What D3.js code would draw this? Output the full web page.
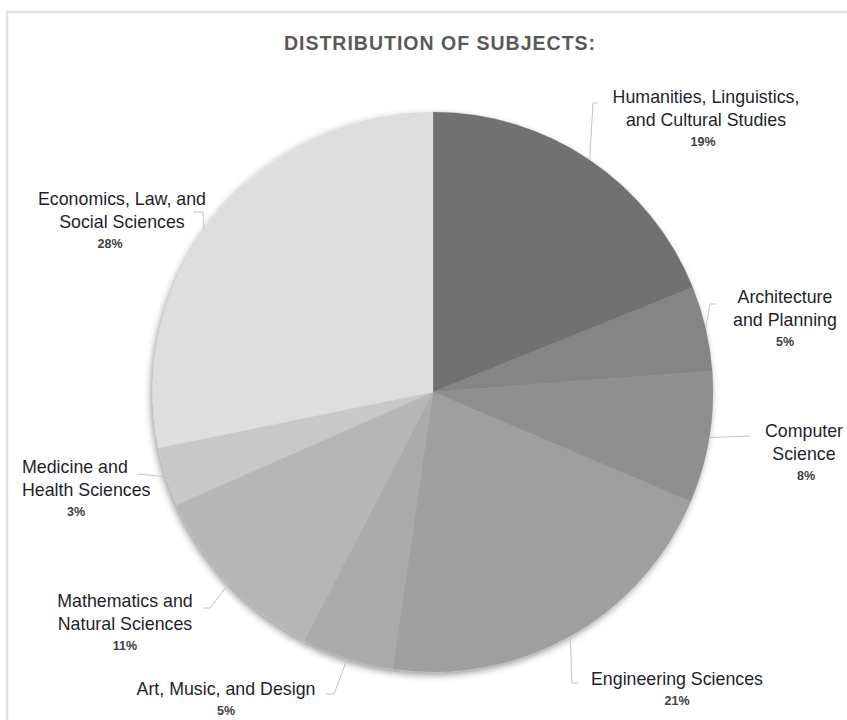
<!DOCTYPE html>
<html>
<head>
<meta charset="utf-8">
<script src="https://cdn.jsdelivr.net/npm/d3@7"></script>
<style>
  body { margin: 0; background: #fff; }
  text { font-family: "Liberation Sans", Arial, sans-serif; }
</style>
</head>
<body>
<svg id="chart" width="847" height="720"></svg>
<script>
// data (share of subjects, %)
const subjects = [
  ["Humanities, Linguistics,", "and Cultural Studies"],
  ["Architecture", "and Planning"],
  ["Computer", "Science"],
  ["Engineering Sciences"],
  ["Art, Music, and Design"],
  ["Mathematics and", "Natural Sciences"],
  ["Medicine and", "Health Sciences"],
  ["Economics, Law, and", "Social Sciences"]
];
const shares = [18.9, 4.9, 7.6, 20.9, 5.3, 10.8, 3.4, 28.2];
const greys = ["#717171", "#858585", "#8f8f8f", "#9f9f9f", "#ababab", "#b6b6b6", "#c8c8c8", "#dedede"];

// label layout: text anchor x, first baseline y, percent x, anchor
const labelX = [706, 785, 804, 677, 226, 125, 22, 122];
const labelY = [103, 303, 437, 685, 695, 607, 473, 205];
const pctX = [703, 785, 806, 677, 226, 125, 76, 110];
const anchors = ["middle", "middle", "middle", "middle", "middle", "middle", "start", "middle"];
// where along each slice's arc the leader leaves (0 = start, 1 = end)
const leaderAt = [0.5, 0.5, 0.5, 0.5, 0.5, 0.5, 0.5, 0.46];
// leader bend points after the slice edge
const leaderPts = [
  [[593, 103], [598, 103]],
  [[710, 304], [716, 304]],
  [[750, 436]],
  [[572, 683], [578, 683]],
  [[334, 694], [326, 694]],
  [[210, 608], [203, 608]],
  [[138, 474]],
  [[203, 212], [193, 212]]
];

const W = 847, H = 720;
const cx = 433, cy = 392, R = 280;

const svg = d3.select("#chart");

// soft shadow under the pie
const defs = svg.append("defs");
const f = defs.append("filter").attr("id", "shadow")
  .attr("x", "-10%").attr("y", "-10%").attr("width", "120%").attr("height", "120%");
f.append("feDropShadow")
  .attr("dx", -2).attr("dy", 3).attr("stdDeviation", 3.5)
  .attr("flood-color", "#000").attr("flood-opacity", 0.4);

// frame
svg.append("path")
  .attr("d", `M7,${H} L7,12 L${W},12`)
  .attr("fill", "none")
  .attr("stroke", "#e2e2e2")
  .attr("stroke-width", 2.5);

// title
svg.append("text")
  .attr("x", 440).attr("y", 50)
  .attr("text-anchor", "middle")
  .attr("font-size", 19.5)
  .attr("font-weight", "bold")
  .attr("letter-spacing", 1)
  .attr("fill", "#595959")
  .text("DISTRIBUTION OF SUBJECTS:");

const pie = d3.pie().sort(null).value(d => d);
const arcs = pie(shares);
const arc = d3.arc().innerRadius(0).outerRadius(R);

const g = svg.append("g").attr("transform", `translate(${cx},${cy})`);

g.append("g")
  .attr("filter", "url(#shadow)")
  .selectAll("path")
  .data(arcs)
  .enter()
  .append("path")
  .attr("d", arc)
  .attr("fill", (d, i) => greys[i])
  .attr("stroke", (d, i) => greys[i])
  .attr("stroke-width", 0.3);

// leader lines: start on the slice edge, then bends
svg.append("g")
  .selectAll("polyline")
  .data(arcs)
  .enter()
  .append("polyline")
  .attr("points", (d, i) => {
    const a = d.startAngle + (d.endAngle - d.startAngle) * leaderAt[i];
    const c = d3.arc().innerRadius(R).outerRadius(R).centroid({startAngle: a, endAngle: a});
    const pts = [[cx + c[0], cy + c[1]]].concat(leaderPts[i]);
    return pts.map(p => p.join(",")).join(" ");
  })
  .attr("fill", "none")
  .attr("stroke", "#c4c4c4")
  .attr("stroke-width", 1);

// labels
const labels = svg.append("g")
  .selectAll("g")
  .data(arcs)
  .enter()
  .append("g");

labels.each(function(d, i) {
  const el = d3.select(this);
  const lines = subjects[i];
  const t = el.append("text")
    .attr("text-anchor", anchors[i])
    .attr("font-size", 17.8)
    .attr("fill", "#1f1f2b");
  lines.forEach((ln, k) => {
    t.append("tspan")
      .attr("x", labelX[i])
      .attr("y", labelY[i] + k * 22.5)
      .text(ln);
  });
  el.append("text")
    .attr("x", pctX[i])
    .attr("y", labelY[i] + (lines.length - 1) * 22.5 + 20)
    .attr("text-anchor", "middle")
    .attr("font-size", 12.5)
    .attr("font-weight", "bold")
    .attr("fill", "#404040")
    .text(Math.round(d.data) + "%");
});
</script>
</body>
</html>
